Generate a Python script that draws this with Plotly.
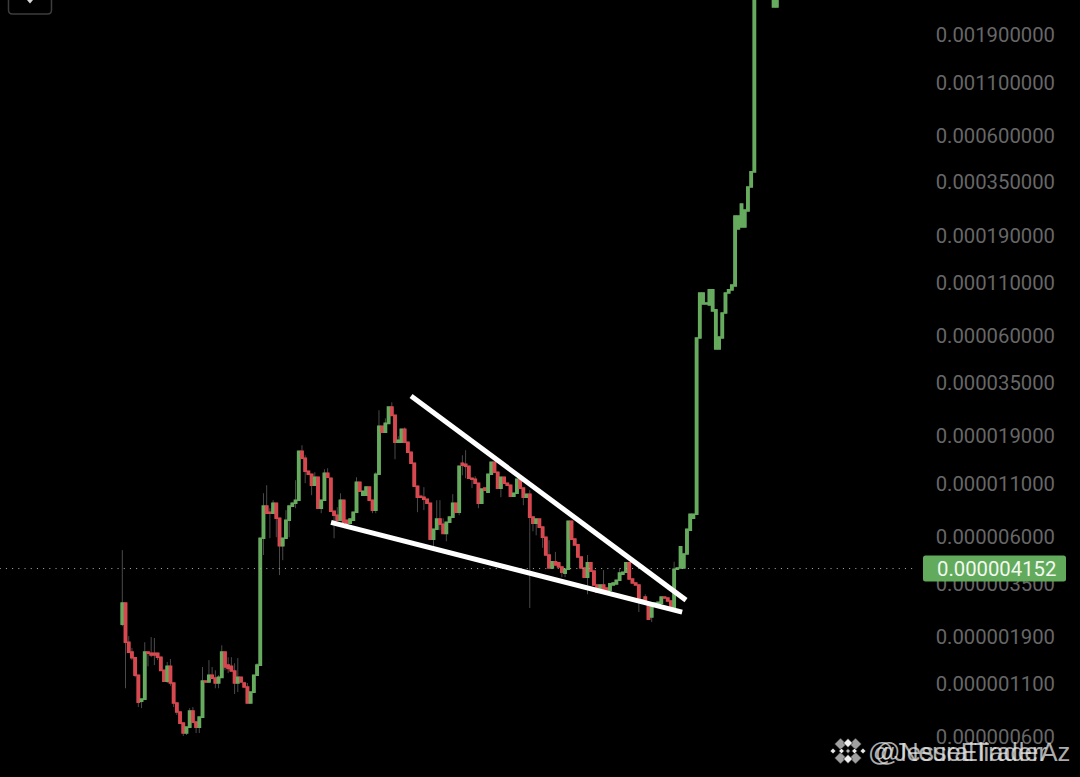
import math
import plotly.graph_objects as go

# Prices are in millionths (1e-6) of the quote unit
opens = [
 2.19,2.79,1.78,1.59,1.49,1.22,.906,.927,1.59,1.57,
 1.57,1.57,1.50,1.29,1.14,1.35,1.115,.886,.799,.704,
 .628,.672,.809,.712,.672,.754,1.14,1.13,1.22,1.18,
 1.115,1.19,1.59,1.37,1.35,1.28,1.115,1.19,1.115,1.065,
 .886,1.005,1.22,1.37,5.88,8.50,7.93,7.84,8.79,7.40,
 5.39,5.88,7.23,8.50,8.79,9.10,15.97,14.74,12.69,12.26,
 10.81,11.85,8.30,9.10,12.40,11.71,8.02,7.66,7.23,9.10,
 7.23,6.98,7.23,7.93,11.19,9.64,9.64,10.57,9.10,8.12,
 12.26,21.28,19.86,21.99,26.5,24.1,17.71,17.71,20.55,17.71,
 15.79,13.92,10.69,9.53,9.42,9.20,8.79,5.82,6.52,7.32,
 6.90,6.22,7.06,7.49,8.79,7.93,13.92,13.76,13.45,11.71,
 11.58,11.06,8.79,10.45,9.98,12.26,14.08,12.55,10.45,11.85,
 11.06,10.81,9.53,9.86,11.58,10.45,9.42,9.75,7.49,6.98,
 7.32,6.68,5.95,4.85,4.18,4.49,4.43,4.23,3.94,4.12,
 7.15,5.82,5.45,4.74,4.18,3.76,4.43,4.03,3.44,3.165,
 3.44,3.32,3.24,3.44,3.48,3.63,3.89,3.98,4.43,3.68,
 3.52,3.44,2.79,2.99,2.79,2.38,2.73,2.76,2.79,2.99,
 2.96,2.86,2.58,4.12,4.18,4.18,4.91,6.45,7.40,7.75,
 58.6,86.6,86.6,85.6,80,51.7,51.7,58.6,78.1,98.3,
 101.8,106.6,205,209.8,209.8,252,332,395,3300,3700,
 3600,3500,3300,2624,2624,
]
closes = [
 2.79,1.78,1.59,1.49,1.22,.896,.927,1.59,1.57,1.54,
 1.54,1.50,1.29,1.14,1.35,1.115,.886,.799,.704,.628,
 .672,.809,.712,.672,.754,1.14,1.13,1.22,1.18,1.115,
 1.19,1.59,1.34,1.32,1.28,1.115,1.19,1.13,1.065,.886,
 1.005,1.22,1.37,5.88,8.50,7.84,7.84,8.79,7.40,5.39,
 5.88,7.23,8.50,8.79,9.10,15.97,14.74,12.69,12.26,10.81,
 11.85,8.30,9.10,12.40,11.85,8.02,7.66,7.23,9.10,7.06,
 6.98,7.32,7.93,11.19,10.09,10.09,10.57,9.10,8.12,12.26,
 21.28,19.86,21.99,26.5,24.1,17.71,18.12,20.55,17.71,15.79,
 13.92,10.69,9.42,9.42,9.20,8.79,5.82,6.52,7.32,6.90,
 6.22,7.06,7.49,8.79,7.93,13.45,13.60,13.45,11.71,11.58,
 11.06,8.79,10.33,10.21,12.26,14.08,12.55,10.45,11.85,11.06,
 10.81,9.53,9.86,11.58,10.45,9.42,9.75,7.49,6.98,7.32,
 6.68,5.95,4.85,4.18,4.49,4.33,4.23,3.98,4.12,7.15,
 5.82,5.45,4.74,4.18,3.76,4.43,4.03,3.44,3.165,3.44,
 3.24,3.24,3.48,3.52,3.63,3.94,3.98,4.43,3.68,3.52,
 3.44,2.82,2.89,2.79,2.32,2.76,2.79,2.82,2.99,2.96,
 2.86,2.58,4.12,4.18,5.33,4.91,6.52,7.75,7.75,58.6,
 98.3,98.3,87.6,101.8,101.8,81,59.3,78.1,98.3,101.8,
 107.8,238,238,273,255,332,395,3300,3700,4100,
 3900,3900,3600,3300,3400,
]
highs = [
 5.13,2.79,1.91,1.67,1.50,1.22,.927,1.78,1.59,1.89,
 1.87,1.57,1.50,1.29,1.42,1.47,1.115,.886,.799,.704,
 .672,.836,.846,.712,.754,1.34,1.14,1.45,1.34,1.29,
 1.22,1.72,1.59,1.50,1.50,1.40,1.485,1.19,1.115,1.115,
 1.005,1.22,1.40,5.88,9.86,10.81,8.30,9.10,8.79,7.40,
 5.88,8.12,8.50,8.89,11.45,15.97,17.11,15.25,12.69,12.26,
 12.55,11.85,9.10,12.99,13.14,11.71,8.02,8.40,9.86,9.10,
 7.23,7.32,7.93,11.85,11.19,10.09,10.57,10.57,9.10,12.55,
 25.57,21.28,23.3,26.5,28.0,24.1,18.97,20.55,21.0,17.71,
 15.79,13.92,10.69,9.53,10.57,9.20,8.79,6.52,9.10,9.10,
 7.40,7.06,7.49,9.75,8.79,13.45,15.25,16.16,13.45,11.71,
 11.99,11.06,10.33,10.45,12.26,14.08,14.08,12.55,11.85,11.85,
 11.06,10.81,9.86,11.58,11.58,10.45,9.75,10.21,7.49,7.32,
 7.32,6.68,5.95,5.75,4.49,5.03,4.43,4.23,4.12,7.15,
 7.15,5.82,5.45,4.74,4.18,4.85,4.43,4.03,3.44,3.44,
 4.08,3.32,3.48,3.52,3.63,4.18,3.98,4.43,4.43,3.68,
 3.52,3.44,2.89,3.09,2.79,2.76,2.79,2.82,2.99,2.99,
 2.96,2.86,4.49,4.18,5.33,4.91,6.52,7.75,7.75,58.6,
 98.3,98.3,87.6,101.8,101.8,81,59.3,78.1,98.3,101.8,
 107.8,238,238,273,255,332,395,3300,3700,4100,
 3900,3900,3600,3300,3400,
]
lows = [
 2.14,1.05,1.59,1.45,1.19,.846,.836,.927,1.35,1.50,
 1.37,1.45,1.29,1.13,1.115,1.08,.846,.772,.696,.607,
 .614,.665,.704,.628,.628,.754,1.115,1.115,1.18,1.05,
 1.05,1.19,1.29,1.25,1.28,.983,1.005,1.13,1.065,.886,
 .886,1.005,1.22,1.37,4.85,7.75,5.88,7.84,5.95,3.85,
 4.57,5.88,5.95,8.50,8.30,9.10,14.74,11.06,12.26,9.64,
 10.81,8.30,7.84,9.10,11.85,8.02,5.88,7.23,7.23,7.06,
 6.98,6.98,7.23,7.93,10.09,9.64,9.64,9.10,7.84,7.84,
 12.26,19.86,19.86,21.99,24.1,14.57,17.71,17.71,17.71,15.79,
 13.92,10.69,7.93,9.42,8.12,8.79,5.82,5.39,6.52,6.45,
 6.22,5.68,7.06,7.49,7.93,7.66,12.12,11.71,11.71,10.45,
 11.06,8.30,8.79,10.21,9.98,12.26,12.55,10.45,9.42,11.06,
 10.81,9.53,9.53,9.86,10.45,8.59,9.42,2.64,6.37,6.08,
 6.68,5.27,4.85,4.18,4.18,4.33,4.23,3.76,3.76,4.12,
 5.82,5.45,4.74,4.18,3.76,3.09,4.03,3.44,3.165,3.165,
 3.24,3.24,3.24,3.44,3.48,3.63,3.89,3.98,3.68,3.52,
 3.44,2.52,2.79,2.79,2.30,2.245,2.73,2.76,2.79,2.96,
 2.86,2.58,2.58,4.12,4.18,4.18,4.91,6.45,7.40,7.75,
 58.6,86.6,86.6,85.6,80,51.7,51.7,58.6,78.1,98.3,
 101.8,106.6,205,209.8,209.8,252,332,395,3300,3700,
 3600,3500,3300,2624,2624,
]
last_price = 4.152
tick_labels = ["0.001900000", "0.001100000", "0.000600000", "0.000350000", "0.000190000",
               "0.000110000", "0.000060000", "0.000035000", "0.000019000", "0.000011000",
               "0.000006000", "0.000003500", "0.000001900", "0.000001100", "0.000000600"]
upper_line_bar = [90.0, 175.7]
upper_line_price = [30.1, 2.889]
lower_line_bar = [65.06, 174.5]
lower_line_price = [7.06, 2.517]
last_line_bar = [-38.2, 247.7]

U = 1e-6
bars = list(range(len(opens)))
o = [v * U for v in opens]
c = [v * U for v in closes]
h = [v * U for v in highs]
l = [v * U for v in lows]
top = [max(a, b) for a, b in zip(o, c)]
bot = [min(a, b) for a, b in zip(o, c)]

GREEN = "#66ab5e"
RED = "#d8484f"
WICK = "#4a4a4a"
W, H = 1080, 777

def px(x): return x / W
def py(y): return 1 - y / H

fig = go.Figure()
# wicks, behind everything
fig.add_trace(go.Candlestick(x=bars, open=o, high=h, low=l, close=c, whiskerwidth=0,
    increasing=dict(line=dict(color=WICK, width=1), fillcolor=WICK),
    decreasing=dict(line=dict(color=WICK, width=1), fillcolor=WICK),
    hoverinfo="skip", showlegend=False))
# bodies on top
fig.add_trace(go.Candlestick(x=bars, open=o, high=top, low=bot, close=c, whiskerwidth=0,
    increasing=dict(line=dict(color=GREEN, width=1.6), fillcolor=GREEN),
    decreasing=dict(line=dict(color=RED, width=1.6), fillcolor=RED),
    showlegend=False))
fig.add_trace(go.Scatter(x=last_line_bar, y=[last_price * U] * 2, mode="lines",
    line=dict(color="#a3b8a3", width=1, dash="1px,5.2px"), hoverinfo="skip", showlegend=False))
fig.add_trace(go.Scatter(x=upper_line_bar, y=[v * U for v in upper_line_price], mode="lines",
    line=dict(color="white", width=5), showlegend=False))
fig.add_trace(go.Scatter(x=lower_line_bar, y=[v * U for v in lower_line_price], mode="lines",
    line=dict(color="white", width=5), showlegend=False))

tick_vals = [float(t) for t in tick_labels]

shapes = []
# last price tag
x0, x1, y0, y1, r = 923, 1066, 555.5, 581.5, 2.5
tag = (f"M {px(x0+r)} {py(y0)} L {px(x1-r)} {py(y0)} Q {px(x1)} {py(y0)} {px(x1)} {py(y0+r)} "
       f"L {px(x1)} {py(y1-r)} Q {px(x1)} {py(y1)} {px(x1-r)} {py(y1)} L {px(x0+r)} {py(y1)} "
       f"Q {px(x0)} {py(y1)} {px(x0)} {py(y1-r)} L {px(x0)} {py(y0+r)} Q {px(x0)} {py(y0)} {px(x0+r)} {py(y0)} Z")
shapes.append(dict(type="path", xref="paper", yref="paper", path=tag, fillcolor="#62ab5c",
                   line=dict(width=0), layer="above"))
# top-left button
x0, x1, y0, y1, r = 8.5, 51.5, -6, 14, 4
btn = (f"M {px(x0)} {py(y0)} L {px(x0)} {py(y1-r)} Q {px(x0)} {py(y1)} {px(x0+r)} {py(y1)} "
       f"L {px(x1-r)} {py(y1)} Q {px(x1)} {py(y1)} {px(x1)} {py(y1-r)} L {px(x1)} {py(y0)}")
shapes.append(dict(type="path", xref="paper", yref="paper", path=btn,
                   line=dict(color="#3d3d3d", width=1.5), layer="above"))
shapes.append(dict(type="path", xref="paper", yref="paper",
                   path=f"M {px(27)} {py(0)} L {px(30)} {py(3.5)} L {px(33)} {py(0)} Z",
                   fillcolor="#d8d8d8", line=dict(width=0), layer="above"))
# watermark logo built from small diamonds
lc = (848, 751)
for dx, dy, s, col in [(-7.5, -7, 6, "#a0a0a0"), (7.5, -7, 6, "#a0a0a0"),
                       (-7.5, 7, 6, "#a0a0a0"), (7.5, 7, 6, "#a0a0a0"),
                       (0, -8, 4.5, "#f0f0f0"), (0, 8, 4.5, "#f0f0f0"),
                       (-6.5, 0, 2.8, "#ececec"), (6.5, 0, 2.8, "#ececec"),
                       (0, 0, 2.4, "#b5b5b5"),
                       (-15, 0, 2.8, "#e8e8e8"), (15, 0, 2.8, "#e8e8e8")]:
    cx, cy = lc[0] + dx, lc[1] + dy
    shapes.append(dict(type="path", xref="paper", yref="paper",
        path=f"M {px(cx-s)} {py(cy)} L {px(cx)} {py(cy-s)} L {px(cx+s)} {py(cy)} L {px(cx)} {py(cy+s)} Z",
        fillcolor=col, line=dict(color="black", width=0.6), layer="above"))

annotations = [
    dict(xref="paper", yref="y", x=px(1058), y=math.log10(last_price * U), xanchor="right", yanchor="middle",
         text="0.000004152", showarrow=False, font=dict(family="Roboto", size=20.3, color="#f4f8f2")),
    dict(xref="paper", yref="paper", x=px(866), y=py(751.5), xanchor="left", yanchor="middle",
         text="@JesseEliaderAz", showarrow=False,
         font=dict(family="Liberation Sans", size=25.6, color="rgba(230,230,230,0.75)")),
    dict(xref="paper", yref="paper", x=px(873), y=py(751.5), xanchor="left", yanchor="middle",
         text="@NeuralTrader", showarrow=False,
         font=dict(family="Liberation Sans", size=25, color="rgba(230,230,230,0.75)")),
]

fig.update_layout(
    width=W, height=H, autosize=False,
    margin=dict(l=0, r=0, t=0, b=0, pad=0),
    paper_bgcolor="black", plot_bgcolor="black",
    showlegend=False, boxgap=0, shapes=shapes, annotations=annotations,
    xaxis=dict(range=[-38.12, 298.5], visible=False, rangeslider=dict(visible=False), fixedrange=True),
    yaxis=dict(type="log", range=[-6.4213, -2.5464], side="right", tickmode="array",
               tickvals=tick_vals, ticktext=tick_labels, ticklabelposition="inside",
               ticklabelstandoff=22, ticklen=0, showgrid=False, zeroline=False, showline=False,
               tickfont=dict(family="Roboto", size=20.3, color="#676767"), fixedrange=True),
)
fig.write_html("out.html", config=dict(displayModeBar=False),
               post_script="document.body.style.margin='0';")
